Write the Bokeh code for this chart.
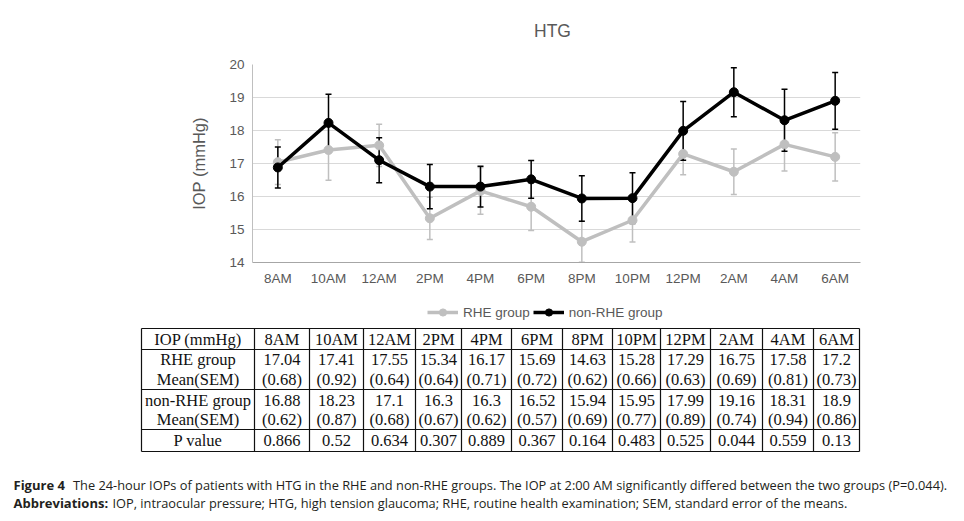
from bokeh.plotting import figure
from bokeh.models import (Range1d, FactorRange, Whisker, TeeHead, ColumnDataSource,
                          Legend, LegendItem)
from bokeh.layouts import column
from bokeh.embed import file_html
from bokeh.resources import INLINE
from bokeh.core.properties import value

# ---------------- data ----------------
times = ["8AM", "10AM", "12AM", "2PM", "4PM", "6PM", "8PM", "10PM", "12PM", "2AM", "4AM", "6AM"]
rhe_mean = [17.04, 17.41, 17.55, 15.34, 16.17, 15.69, 14.63, 15.28, 17.29, 16.75, 17.58, 17.2]
rhe_sem = [0.68, 0.92, 0.64, 0.64, 0.71, 0.72, 0.62, 0.66, 0.63, 0.69, 0.81, 0.73]
non_mean = [16.88, 18.23, 17.1, 16.3, 16.3, 16.52, 15.94, 15.95, 17.99, 19.16, 18.31, 18.9]
non_sem = [0.62, 0.87, 0.68, 0.67, 0.62, 0.57, 0.69, 0.77, 0.89, 0.74, 0.94, 0.86]
p_values = [0.866, 0.52, 0.634, 0.307, 0.889, 0.367, 0.164, 0.483, 0.525, 0.044, 0.559, 0.13]
y_ticks = [14, 15, 16, 17, 18, 19, 20]
chart_title = "HTG"
series_names = ["RHE group", "non-RHE group"]
caption_bold = ["Figure 4", "Abbreviations:"]
caption_text = [
    "The 24-hour IOPs of patients with HTG in the RHE and non-RHE groups. The IOP at 2:00 AM significantly differed between the two groups (P=0.044).",
    "IOP, intraocular pressure; HTG, high tension glaucoma; RHE, routine health examination; SEM, standard error of the means.",
]

# ---------------- styles ----------------
GREY = "#bfbfbf"
BLACK = "#000000"
TXT = "#595959"
SANS = "Liberation Sans"
SERIF = "Liberation Serif"
CAP = "Open Sans"
W = 964
NAN = float("nan")


def blank_canvas(height, y0, y1):
    f = figure(width=W, height=height, x_range=Range1d(0, W), y_range=Range1d(y1, y0),
               output_backend="svg", toolbar_location=None, x_axis_location=None, y_axis_location=None,
               min_border=0, min_border_left=0, min_border_right=0, min_border_top=0, min_border_bottom=0)
    f.frame_align = False
    f.grid.visible = False
    f.outline_line_color = None
    f.background_fill_color = "white"
    f.border_fill_color = "white"
    return f


# ---------------- title strip ----------------
h = blank_canvas(48, 0, 48)
h.text(x=[552], y=[30], text=[chart_title], text_font=value(SANS), text_font_size="17.5px",
       text_align="center", text_baseline="middle", text_color=TXT)

# ---------------- chart ----------------
src = ColumnDataSource(dict(
    t=times,
    rm=rhe_mean, rl=[m - s for m, s in zip(rhe_mean, rhe_sem)], ru=[m + s for m, s in zip(rhe_mean, rhe_sem)],
    nm=non_mean, nl=[m - s for m, s in zip(non_mean, non_sem)], nu=[m + s for m, s in zip(non_mean, non_sem)],
))

p = figure(width=W, height=247, x_range=FactorRange(factors=times, range_padding=0),
           y_range=Range1d(14, 20), output_backend="svg", toolbar_location=None,
           min_border_left=252, min_border_right=104, min_border_top=16, min_border_bottom=33)
p.frame_align = False
p.outline_line_color = None
p.background_fill_color = "white"
p.border_fill_color = "white"

p.xgrid.grid_line_color = None
p.ygrid.grid_line_color = "#d9d9d9"
p.yaxis.ticker = y_ticks
for ax in (p.xaxis, p.yaxis):
    ax.major_tick_line_color = None
    ax.minor_tick_line_color = None
    ax.major_tick_out = 0
    ax.major_tick_in = 0
    ax.major_label_text_font = SANS
    ax.major_label_text_font_size = "13.5px"
    ax.major_label_text_color = TXT
p.xaxis.axis_line_color = "#a6a6a6"
p.yaxis.axis_line_color = "#bfbfbf"
p.xaxis.major_label_standoff = 8
p.yaxis.major_label_standoff = 8
p.yaxis.axis_label = "IOP (mmHg)"
p.yaxis.axis_label_text_font = SANS
p.yaxis.axis_label_text_font_size = "16.5px"
p.yaxis.axis_label_text_font_style = "normal"
p.yaxis.axis_label_text_color = TXT
p.yaxis.axis_label_standoff = 18

wg = Whisker(base="t", upper="ru", lower="rl", source=src, level="underlay",
             line_color=GREY, line_width=1.5,
             upper_head=TeeHead(size=6, line_color=GREY, line_width=1.5),
             lower_head=TeeHead(size=6, line_color=GREY, line_width=1.5))
wb = Whisker(base="t", upper="nu", lower="nl", source=src, level="underlay",
             line_color=BLACK, line_width=1.5,
             upper_head=TeeHead(size=6, line_color=BLACK, line_width=1.5),
             lower_head=TeeHead(size=6, line_color=BLACK, line_width=1.5))
p.add_layout(wg)
p.add_layout(wb)

p.line(x="t", y="rm", source=src, line_color=GREY, line_width=3.5)
p.scatter(x="t", y="rm", source=src, size=9, fill_color=GREY, line_color=GREY)
p.line(x="t", y="nm", source=src, line_color=BLACK, line_width=3.5)
p.scatter(x="t", y="nm", source=src, size=9, fill_color=BLACK, line_color=BLACK)

# ---------------- legend, table + caption ----------------
t = blank_canvas(226, 295, 521)

# legend proxies (same styling as the chart series; NaN data so nothing is drawn in the plot)
lg_gl = t.line(x=[NAN, NAN], y=[NAN, NAN], line_color=GREY, line_width=3.5)
lg_gs = t.scatter(x=[NAN], y=[NAN], size=8, fill_color=GREY, line_color=GREY)
lg_bl = t.line(x=[NAN, NAN], y=[NAN, NAN], line_color=BLACK, line_width=3.5)
lg_bs = t.scatter(x=[NAN], y=[NAN], size=8, fill_color=BLACK, line_color=BLACK)
legend = Legend(items=[LegendItem(label=series_names[0], renderers=[lg_gl, lg_gs]),
                       LegendItem(label=series_names[1], renderers=[lg_bl, lg_bs])],
                orientation="horizontal", location=(427, 200),
                glyph_width=31, glyph_height=18, label_height=18, label_standoff=5, spacing=3,
                padding=0, margin=0, border_line_color=None, background_fill_alpha=0,
                label_text_font=SANS, label_text_font_size="13.5px", label_text_color=TXT)
t.add_layout(legend)

col_edges = [141, 254, 309, 363, 415, 461, 511, 562, 612, 660, 710, 762, 813, 859]
row_edges = [328, 349, 389, 429, 451]
t.segment(x0=col_edges, x1=col_edges, y0=[row_edges[0]] * len(col_edges), y1=[row_edges[-1]] * len(col_edges),
          line_color="#111111", line_width=1.2)
t.segment(x0=[col_edges[0]] * len(row_edges), x1=[col_edges[-1]] * len(row_edges), y0=row_edges, y1=row_edges,
          line_color="#111111", line_width=1.2)

centers = [(a + b) / 2 for a, b in zip(col_edges[:-1], col_edges[1:])]
rows = [
    (339, ["IOP (mmHg)"] + times),
    (359, [series_names[0]] + [str(v) for v in rhe_mean]),
    (379, ["Mean(SEM)"] + ["(%.2f)" % v for v in rhe_sem]),
    (400, [series_names[1]] + [str(v) for v in non_mean]),
    (419, ["Mean(SEM)"] + ["(%.2f)" % v for v in non_sem]),
    (440, ["P value"] + [str(v) for v in p_values]),
]
xs, ys, txts = [], [], []
for y, cells in rows:
    xs += centers
    ys += [y] * len(cells)
    txts += cells
t.text(x=xs, y=ys, text=txts, text_font=value(SERIF), text_font_size="16.5px",
       text_align="center", text_baseline="middle", text_color="#111111")

t.text(x=[13, 13], y=[484, 502], text=caption_bold, text_font=value(CAP), text_font_style="bold",
       text_font_size="13px", text_align="left", text_baseline="middle", text_color="#231f20")
t.text(x=[72.5, 112], y=[484, 502], text=caption_text, text_font=value(CAP),
       text_font_size="12.8px", text_align="left", text_baseline="middle", text_color="#231f20")

layout = column(h, p, t, spacing=0)
open("out.html", "w").write(file_html(layout, INLINE))
